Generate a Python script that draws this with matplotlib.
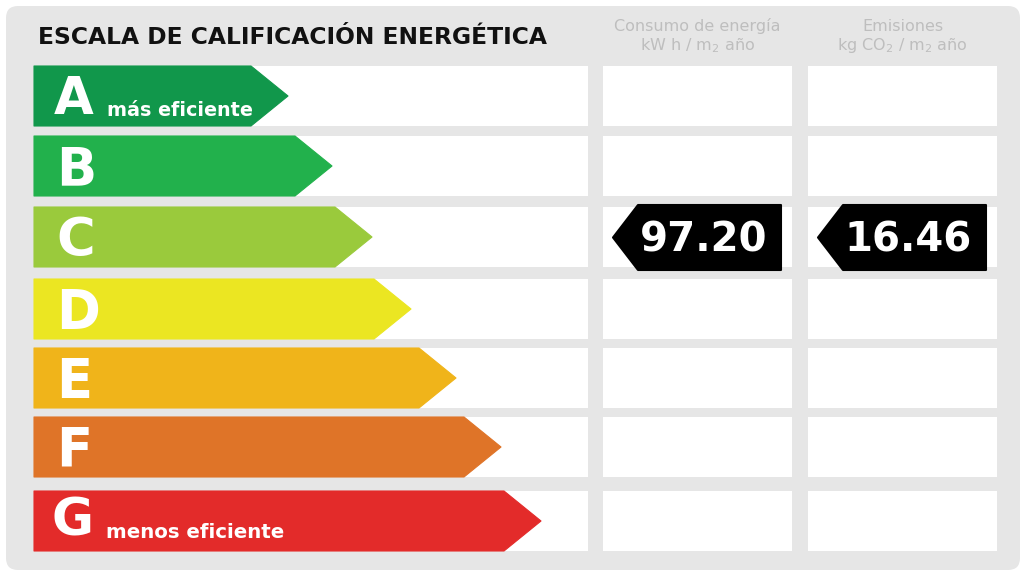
import matplotlib
matplotlib.use("Agg")
from matplotlib import pyplot as plt
from matplotlib.patches import Polygon, FancyBboxPatch, Rectangle

plt.rcParams['font.family'] = ['DejaVu Sans']
plt.rcParams['mathtext.fontset'] = 'dejavusans'

# data
grades = ['A', 'B', 'C', 'D', 'E', 'F', 'G']
grade_notes = {'A': 'más eficiente', 'G': 'menos eficiente'}
bar_lengths = [254, 298, 338, 377, 422, 467, 507]   # arrow length per grade (px)
current_grade = 'C'
consumo = 97.20
emisiones = 16.46
title = 'ESCALA DE CALIFICACIÓN ENERGÉTICA'
col_heads = [('Consumo de energía', 'kW h / $\\mathrm{m}_2$ año'),
             ('Emisiones', 'kg CO$_2$ / $\\mathrm{m}_2$ año')]

colors = ['#11974b', '#22b14c', '#9aca3c', '#ebe622', '#f0b41a', '#df7428', '#e32b2a']

# layout (pixels)
W, H = 1024, 576
row_top = [66, 136, 207, 279, 348, 417, 491]
row_h = 60
bar_x0 = 34
strip_x1 = 588
cols = [(603, 792), (808, 997)]
tip_depth = 37

fig = plt.figure(figsize=(W / 100, H / 100), dpi=100)
ax = fig.add_axes([0, 0, 1, 1])
ax.set_xlim(0, W)
ax.set_ylim(H, 0)
ax.axis('off')

ax.add_patch(FancyBboxPatch((6, 6), 1014, 564, boxstyle='round,pad=0,rounding_size=12',
                            fc='#e6e6e6', ec='none'))

ax.text(38, 44, title, fontsize=16.8, fontweight='bold', color='#111111', va='baseline',
        ha='left')
for (x0, x1), (l1, l2) in zip(cols, col_heads):
    xc = (x0 + x1) / 2
    ax.text(xc, 31, l1, fontsize=11.5, color='#bebebe', ha='center', va='baseline')
    ax.text(xc, 50, l2, fontsize=11.5, color='#bebebe', ha='center', va='baseline')

for i, g in enumerate(grades):
    top = row_top[i]
    bot = top + row_h
    mid = top + row_h / 2
    ax.add_patch(Rectangle((bar_x0, top), strip_x1 - bar_x0, row_h, fc='white', ec='none'))
    for x0, x1 in cols:
        ax.add_patch(Rectangle((x0, top), x1 - x0, row_h, fc='white', ec='none'))

    tip = bar_x0 + bar_lengths[i]
    body = tip - tip_depth
    ax.add_patch(Polygon([(bar_x0, top), (body, top), (tip, mid), (body, bot), (bar_x0, bot)],
                         closed=True, fc=colors[i], ec=colors[i], lw=0.8, joinstyle='round'))

    if g == 'A':
        ax.text(54, bot - 12, g, fontsize=37, fontweight='bold', color='white', ha='left',
                va='baseline')
        ax.text(107, bot - 10, grade_notes[g], fontsize=13.8, fontweight='bold', color='white',
                ha='left', va='baseline')
    elif g == 'G':
        ax.text(52, bot - 16, g, fontsize=37, fontweight='bold', color='white', ha='left',
                va='baseline')
        ax.text(106, bot - 13, grade_notes[g], fontsize=14.2, fontweight='bold', color='white',
                ha='left', va='baseline')
    else:
        ax.text(56, bot - 11, g, fontsize=38, fontweight='bold', color='white', ha='left',
                va='baseline')

    if g == current_grade:
        for (x0, x1), val in zip(cols, [consumo, emisiones]):
            bx0 = x0 + 10
            bx1 = x1 - 11
            btop = top - 2
            bbot = bot + 3
            bmid = (btop + bbot) / 2
            ax.add_patch(Polygon([(bx0, bmid), (bx0 + 25, btop), (bx1, btop), (bx1, bbot),
                                  (bx0 + 25, bbot)], closed=True, fc='black', ec='black',
                                 lw=1.5, joinstyle='round'))
            ax.text((bx0 + 25 + bx1) / 2 - 6, bmid + 14, f'{val:.2f}', fontsize=29,
                    fontweight='bold', color='white', ha='center', va='baseline')

fig.savefig('out.png', dpi=100, facecolor='white')
